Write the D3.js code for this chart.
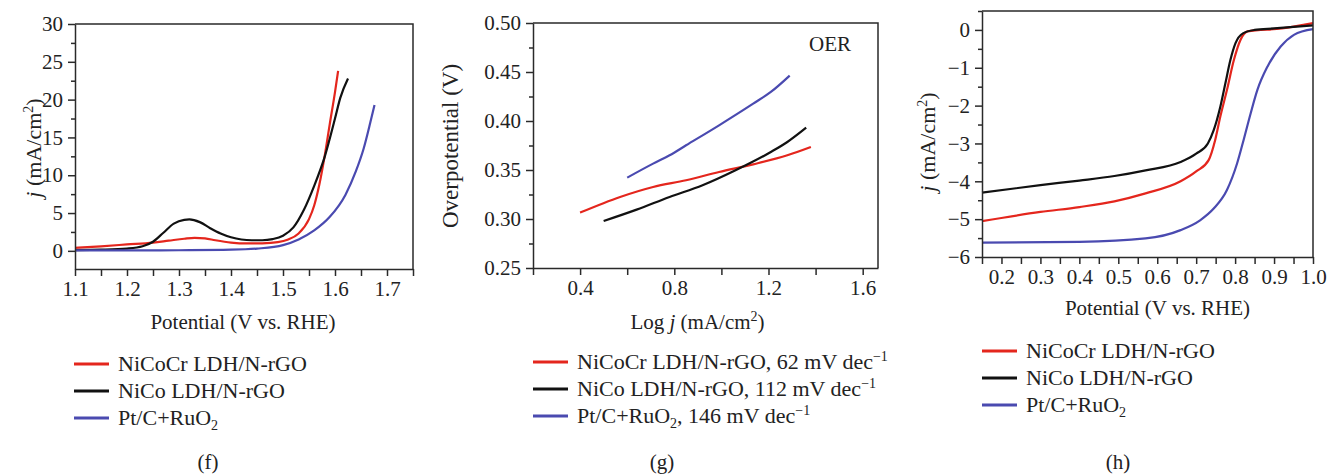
<!DOCTYPE html>
<html>
<head>
<meta charset="utf-8">
<script src="https://cdn.jsdelivr.net/npm/d3@7"></script>
<style>
  body { margin: 0; background: #fff; }
  text { font-family: "Liberation Serif", "DejaVu Serif", serif; fill: #222; }
</style>
</head>
<body>
<div id="chart"></div>
<script>
//Series names and colours
const seriesNames = ["NiCoCr LDH/N-rGO", "NiCo LDH/N-rGO", "Pt/C+RuO2"];
const seriesColors = ["#e4261d", "#111111", "#4a4ab0"];
const tafelSlopes = ["62", "112", "146"];

//Panel (f): potential (V) vs current density (mA/cm2)
const fNiCoCr = [[1.10,0.40],[1.15,0.60],[1.20,0.85],[1.25,1.10],[1.28,1.35],[1.31,1.60],[1.33,1.72],[1.35,1.65],[1.37,1.40],[1.40,1.10],[1.43,0.98],[1.46,1.00],[1.49,1.15],[1.51,1.50],[1.53,2.30],[1.55,4.20],[1.56,6.0],[1.57,8.8],[1.58,12.5],[1.59,16.8],[1.60,21.0],[1.606,23.8]];
const fNiCo = [[1.10,0.10],[1.15,0.15],[1.20,0.30],[1.23,0.60],[1.25,1.20],[1.27,2.40],[1.29,3.60],[1.31,4.10],[1.32,4.15],[1.34,3.80],[1.36,3.00],[1.38,2.30],[1.40,1.80],[1.42,1.50],[1.44,1.40],[1.46,1.40],[1.48,1.55],[1.50,2.00],[1.52,3.10],[1.54,5.40],[1.56,8.60],[1.58,12.40],[1.60,17.50],[1.61,20.20],[1.625,22.8]];
const fPtRu = [[1.10,0.05],[1.20,0.05],[1.30,0.08],[1.40,0.15],[1.45,0.30],[1.50,0.75],[1.53,1.50],[1.56,2.70],[1.59,4.50],[1.62,7.40],[1.64,10.5],[1.655,13.5],[1.668,17.0],[1.676,19.3]];

//Panel (g): log j vs overpotential (V)
const gNiCoCr = [[0.40,0.3065],[0.57,0.3225],[0.71,0.3327],[0.85,0.3395],[0.99,0.348],[1.135,0.3558],[1.28,0.365],[1.38,0.3735]];
const gNiCo = [[0.50,0.298],[0.64,0.3096],[0.78,0.3225],[0.92,0.3344],[1.06,0.3497],[1.21,0.3684],[1.28,0.3786],[1.36,0.3932]];
const gPtRu = [[0.60,0.3422],[0.71,0.3565],[0.78,0.365],[0.85,0.3752],[0.99,0.3956],[1.135,0.4177],[1.21,0.4296],[1.29,0.4463]];

//Panel (h): potential (V) vs current density (mA/cm2)
const hNiCoCr = [[0.15,-5.05],[0.30,-4.81],[0.40,-4.68],[0.49,-4.53],[0.57,-4.32],[0.66,-4.0],[0.70,-3.74],[0.732,-3.44],[0.749,-2.9],[0.762,-2.29],[0.779,-1.59],[0.797,-0.79],[0.814,-0.26],[0.832,-0.04],[0.92,0.04],[1.0,0.18]];
const hNiCo = [[0.15,-4.30],[0.30,-4.10],[0.40,-3.98],[0.49,-3.86],[0.57,-3.71],[0.66,-3.49],[0.70,-3.27],[0.73,-3.0],[0.745,-2.65],[0.762,-2.03],[0.775,-1.41],[0.788,-0.79],[0.801,-0.35],[0.82,-0.09],[0.85,0.0],[0.90,0.04],[1.0,0.12]];
const hPtRu = [[0.15,-5.62],[0.40,-5.60],[0.57,-5.51],[0.66,-5.29],[0.71,-5.03],[0.745,-4.72],[0.779,-4.23],[0.805,-3.53],[0.822,-2.9],[0.84,-2.2],[0.857,-1.59],[0.883,-0.97],[0.917,-0.44],[0.951,-0.13],[1.0,0.02]];

//Tick values
const fXTicks = [1.1, 1.2, 1.3, 1.4, 1.5, 1.6, 1.7];
const fXMinor = [1.15, 1.25, 1.35, 1.45, 1.55, 1.65, 1.75];
const fYTicks = [0, 5, 10, 15, 20, 25, 30];
const fYMinor = [2.5, 7.5, 12.5, 17.5, 22.5, 27.5];
const gXTicks = [0.4, 0.8, 1.2, 1.6];
const gXMinor = [0.2, 0.6, 1.0, 1.4];
const gYTicks = [0.25, 0.30, 0.35, 0.40, 0.45, 0.50];
const gYMinor = [0.275, 0.325, 0.375, 0.425, 0.475];
const hXTicks = [0.2, 0.3, 0.4, 0.5, 0.6, 0.7, 0.8, 0.9, 1.0];
const hXMinor = [0.15, 0.25, 0.35, 0.45, 0.55, 0.65, 0.75, 0.85, 0.95];
const hYTicks = [-6, -5, -4, -3, -2, -1, 0];
const hYMinor = [-5.5, -4.5, -3.5, -2.5, -1.5, -0.5, 0.5];

const W = 1331, H = 474;
const svg = d3.select("#chart")
    .append("svg")
    .attr("width", W)
    .attr("height", H);

const axisColor = "#2a2a2a";
const tickFont = "21px", labelFont = "21px", legendFont = "22px", supFont = "14px";

//Draws one panel: frame, ticks, labels and the three curves
function drawPanel(p) {
    const x = d3.scaleLinear().domain(p.xDomain).range([p.left, p.right]);
    const y = d3.scaleLinear().domain(p.yDomain).range([p.bottom, p.top]);
    const g = svg.append("g");

    //Curves
    const line = d3.line()
        .x(d => x(d[0]))
        .y(d => y(d[1]))
        .curve(d3.curveMonotoneX);
    p.series.forEach((s, i) => {
        g.append("path")
            .datum(s)
            .attr("d", line)
            .attr("fill", "none")
            .attr("stroke", seriesColors[i])
            .attr("stroke-width", 2.2)
            .attr("stroke-linejoin", "round");
    });

    //Top and right frame lines
    g.append("path")
        .attr("d", `M${p.left},${p.top}H${p.right}V${p.bottom}`)
        .attr("fill", "none")
        .attr("stroke", axisColor)
        .attr("stroke-width", 1.5);

    //Bottom axis
    const xAxis = g.append("g")
        .attr("transform", `translate(0,${p.bottom})`)
        .call(d3.axisBottom(x).tickValues(p.xTicks).tickSize(7).tickSizeOuter(0).tickPadding(5).tickFormat(d3.format(".1f")));
    const xMinor = g.append("g")
        .attr("transform", `translate(0,${p.bottom})`)
        .call(d3.axisBottom(x).tickValues(p.xMinor).tickSize(7).tickFormat(""));
    xMinor.select(".domain").remove();

    //Left axis
    const yAxis = g.append("g")
        .attr("transform", `translate(${p.left},0)`)
        .call(d3.axisLeft(y).tickValues(p.yTicks).tickSize(7).tickSizeOuter(0).tickPadding(5).tickFormat(p.yFormat));
    const yMinor = g.append("g")
        .attr("transform", `translate(${p.left},0)`)
        .call(d3.axisLeft(y).tickValues(p.yMinor).tickSize(4).tickFormat(""));
    yMinor.select(".domain").remove();

    [xAxis, xMinor, yAxis, yMinor].forEach(a => {
        a.selectAll("path, line").attr("stroke", axisColor).attr("stroke-width", 1.5);
        a.selectAll("text").style("font-family", "Liberation Serif").style("font-size", tickFont).attr("fill", "#222");
    });

    //X axis title
    const xt = g.append("text")
        .attr("x", (p.left + p.right) / 2 + p.xTitleDx)
        .attr("y", p.xTitleY)
        .attr("text-anchor", "middle")
        .style("font-size", labelFont);
    p.xTitle(xt);

    //Y axis title
    const yt = g.append("text")
        .attr("transform", `translate(${p.yTitleX},${p.yTitleY}) rotate(-90)`)
        .attr("text-anchor", "middle")
        .style("font-size", p.yTitleSize || labelFont);
    p.yTitle(yt);

    //Legend
    const lg = g.append("g");
    p.legend.forEach((label, i) => {
        const ly = p.legendY + i * 27;
        lg.append("line")
            .attr("x1", p.legendX).attr("x2", p.legendX + 35)
            .attr("y1", ly).attr("y2", ly)
            .attr("stroke", seriesColors[i])
            .attr("stroke-width", 3);
        const t = lg.append("text")
            .attr("x", p.legendX + 44)
            .attr("y", ly + 7)
            .style("font-size", legendFont);
        label(t);
    });

    //Panel letter
    g.append("text")
        .attr("x", p.letterX)
        .attr("y", 469)
        .attr("text-anchor", "middle")
        .style("font-size", labelFont)
        .text(p.letter);
    return g;
}

//Text helpers for sub/superscripts and italic j
function jTitle(t) {
    t.append("tspan").style("font-style", "italic").text("j");
    t.append("tspan").text(" (mA/cm");
    t.append("tspan").attr("dy", -8).style("font-size", supFont).text("2");
    t.append("tspan").attr("dy", 8).text(")");
}
function plainLabel(i) {
    return t => {
        if (i === 2) {
            t.append("tspan").text("Pt/C+RuO");
            t.append("tspan").attr("dy", 5).style("font-size", supFont).text("2");
        } else {
            t.text(seriesNames[i]);
        }
    };
}
function tafelLabel(i) {
    return t => {
        if (i === 2) {
            t.append("tspan").text("Pt/C+RuO");
            t.append("tspan").attr("dy", 5).style("font-size", supFont).text("2");
            t.append("tspan").attr("dy", -5).text(`, ${tafelSlopes[i]} mV dec`);
        } else {
            t.append("tspan").text(`${seriesNames[i]}, ${tafelSlopes[i]} mV dec`);
        }
        t.append("tspan").attr("dy", -8).style("font-size", supFont).text("\u22121");
    };
}

//(f)
drawPanel({
    left: 75, right: 413, top: 24, bottom: 269,
    xDomain: [1.1, 1.75], yDomain: [-2.4, 30],
    xTicks: fXTicks, xMinor: fXMinor, yTicks: fYTicks, yMinor: fYMinor,
    yFormat: d3.format("d"),
    series: [fNiCoCr, fNiCo, fPtRu],
    xTitle: t => t.text("Potential (V vs. RHE)"), xTitleY: 329, xTitleDx: -1,
    yTitle: jTitle, yTitleX: 41, yTitleY: 148, yTitleSize: "22px",
    legend: [0, 1, 2].map(plainLabel), legendX: 74, legendY: 364,
    letter: "(f)", letterX: 208
});

//(g)
const panelG = drawPanel({
    left: 533, right: 878, top: 23, bottom: 268,
    xDomain: [0.2, 1.665], yDomain: [0.25, 0.50],
    xTicks: gXTicks, xMinor: gXMinor, yTicks: gYTicks, yMinor: gYMinor,
    yFormat: d3.format(".2f"),
    series: [gNiCoCr, gNiCo, gPtRu],
    xTitle: t => {
        t.append("tspan").text("Log ");
        t.append("tspan").style("font-style", "italic").text("j");
        t.append("tspan").text(" (mA/cm");
        t.append("tspan").attr("dy", -8).style("font-size", supFont).text("2");
        t.append("tspan").attr("dy", 8).text(")");
    }, xTitleY: 329, xTitleDx: -8,
    yTitle: t => t.text("Overpotential (V)"), yTitleX: 458, yTitleY: 146, yTitleSize: "23px",
    legend: [0, 1, 2].map(tafelLabel), legendX: 533, legendY: 362,
    letter: "(g)", letterX: 662
});
panelG.append("text")
    .attr("x", 830)
    .attr("y", 51)
    .attr("text-anchor", "middle")
    .style("font-size", labelFont)
    .text("OER");

//(h)
drawPanel({
    left: 982, right: 1313, top: 11, bottom: 257,
    xDomain: [0.15, 1.0], yDomain: [-6, 0.5],
    xTicks: hXTicks, xMinor: hXMinor, yTicks: hYTicks, yMinor: hYMinor,
    yFormat: d3.format("d"),
    series: [hNiCoCr, hNiCo, hPtRu],
    xTitle: t => t.text("Potential (V vs. RHE)"), xTitleY: 315, xTitleDx: 10,
    yTitle: jTitle, yTitleX: 935, yTitleY: 142, yTitleSize: "22px",
    legend: [0, 1, 2].map(plainLabel), legendX: 982, legendY: 351,
    letter: "(h)", letterX: 1118
});
</script>
</body>
</html>
